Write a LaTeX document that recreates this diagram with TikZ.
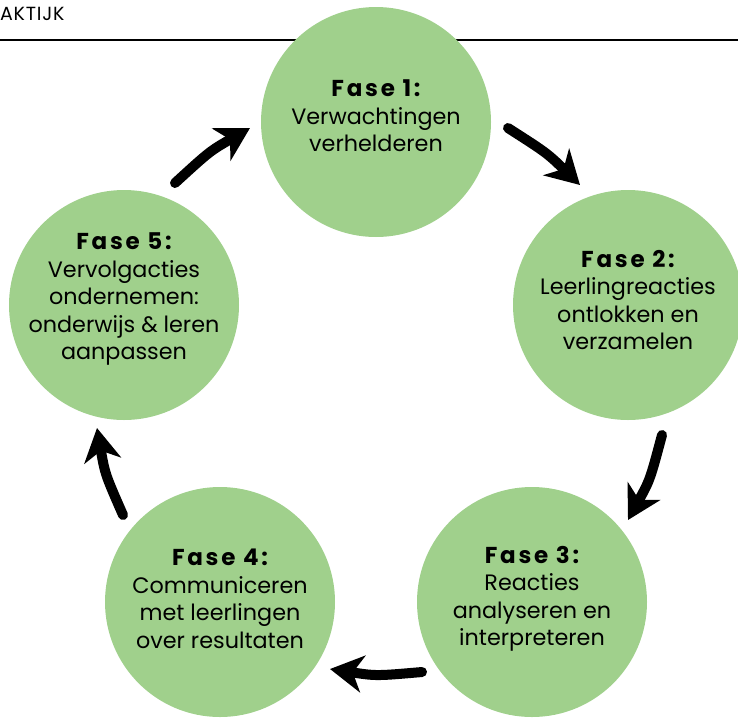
\documentclass[tikz,border=0pt]{standalone}
\usepackage{fontspec}
\setmainfont{Poppins}
\usetikzlibrary{arrows.meta,calc}
\definecolor{fasegreen}{RGB}{160,208,140}
\newcommand\fasehead[1]{{\fontsize{23}{27.5}\selectfont\bfseries\addfontfeatures{LetterSpace=12}#1}}
\begin{document}
\begin{tikzpicture}[x=1pt,y=-1pt,
  phase/.style={circle,fill=fasegreen,minimum size=230pt,inner sep=0pt},
  ptext/.style={align=center,font=\fontsize{22.3}{27.5}\selectfont,inner sep=0pt},
  arr/.style={line width=10pt,line cap=round,-{Stealth[length=33pt,width=37pt,inset=10pt]}}]
\useasboundingbox (0,0) rectangle (738,718);
% header
\node[anchor=base west,inner sep=0pt,font=\fontsize{19}{22}\selectfont\addfontfeatures{LetterSpace=4}] (hdr) at (0,20) {AKTIJK};
\coordinate (hl) at (0,40);
\coordinate (hr) at (738,40);
\draw[line width=2pt] (hl) -- (hr);
% phases
\node[phase] (c1) at (376,122) {};
\node[phase] (c2) at (628,305) {};
\node[phase] (c3) at (532,602) {};
\node[phase] (c4) at (220,602) {};
\node[phase] (c5) at (124,305) {};
\node[ptext] (t1) at ($(c1.center)+(0,6pt)$) {\fasehead{Fase 1:}\\Verwachtingen\\verhelderen};
\node[ptext] (t2) at ($(c2.center)+(0,5pt)$) {\fasehead{Fase 2:}\\Leerlingreacties\\ontlokken en\\verzamelen};
\node[ptext] (t3) at ($(c3.center)+(0,3pt)$) {\fasehead{Fase 3:}\\Reacties\\analyseren en\\interpreteren};
\node[ptext] (t4) at ($(c4.center)+(0,3pt)$) {\fasehead{Fase 4:}\\Communiceren\\met leerlingen\\over resultaten};
\node[ptext] (t5) at ($(c5.center)+(0,6pt)$) {\fasehead{Fase 5:}\\Vervolgacties\\ondernemen:\\onderwijs \& leren\\aanpassen};
% arrow end points
\coordinate (s51) at (175,183); \coordinate (e51) at (250,128);
\coordinate (s12) at (508,128); \coordinate (e12) at (580,185);
\coordinate (s23) at (662,435); \coordinate (e23) at (628,520);
\coordinate (s34) at (422,672); \coordinate (e34) at (330,669);
\coordinate (s45) at (123,515); \coordinate (e45) at (97,428);
\draw[arr] (s51) .. controls (210,151) .. (e51);
\draw[arr] (s12) .. controls (547,153) .. (e12);
\draw[arr] (s23) .. controls (650,480) .. (e23);
\draw[arr] (s34) .. controls (376,676) .. (e34);
\draw[arr] (s45) .. controls (105,474) .. (e45);
\end{tikzpicture}
\end{document}
